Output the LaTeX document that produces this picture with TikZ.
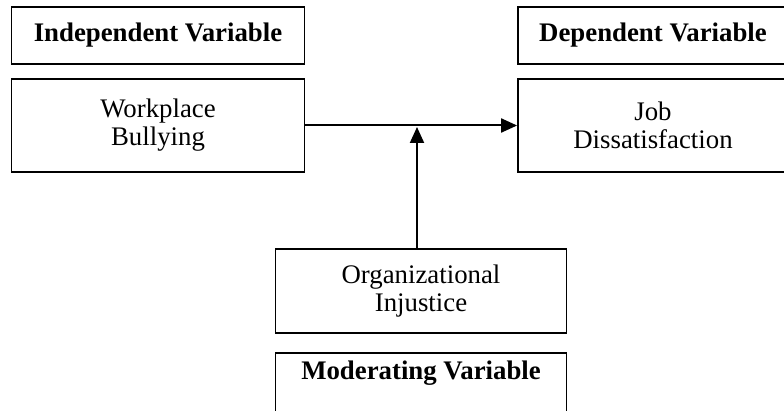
\documentclass[tikz,border=0pt]{standalone}
\usepackage{fontspec}
\setmainfont{Liberation Serif}
\usepackage{tikz}
\usetikzlibrary{arrows.meta}
\usetikzlibrary{positioning}
\tikzstyle{headnode}=[black, draw=black, line width=1.8pt, shape=rectangle, fill=white, minimum width=293pt, minimum height=57pt, inner sep=0pt, font=\fontsize{26.8}{28}\selectfont\bfseries]
\tikzstyle{varnode}=[black, draw=black, line width=1.8pt, shape=rectangle, fill=white, minimum width=293pt, minimum height=93pt, inner sep=0pt, align=center, font=\fontsize{26.8}{28}\selectfont]

\begin{document}
\begin{tikzpicture}[x=1pt, y=1pt]
\useasboundingbox (0,0) rectangle (784,410);
\clip (0,0) rectangle (784,410);
\node [headnode] (indhead) at (158,374.5) {Independent Variable};
\node [varnode] (bully) at (158,284.5) {Workplace\\Bullying};
\node [headnode, minimum width=270pt] (dephead) at (653,374.5) {Dependent Variable};
\node [varnode, minimum width=270pt] (dissat) at (653,284.5) {Job\\Dissatisfaction};
\node [varnode, minimum width=291pt, minimum height=84pt] (injust) at (421,119) {Organizational\\Injustice};
\node [headnode, minimum width=291pt, anchor=north, text height=27pt, text depth=40pt] (modhead) at (421,58) {Moderating Variable};

\draw[-{Triangle[length=16pt, width=14pt]}, line width=2pt, color=black] (bully) -- (dissat);
\draw[-{Triangle[length=16pt, width=14pt]}, line width=2pt, color=black, shorten >=1.5pt] ([xshift=-4pt]injust.north) -- ([xshift=-4pt]injust.north |- bully.east);
\end{tikzpicture}
\end{document}
